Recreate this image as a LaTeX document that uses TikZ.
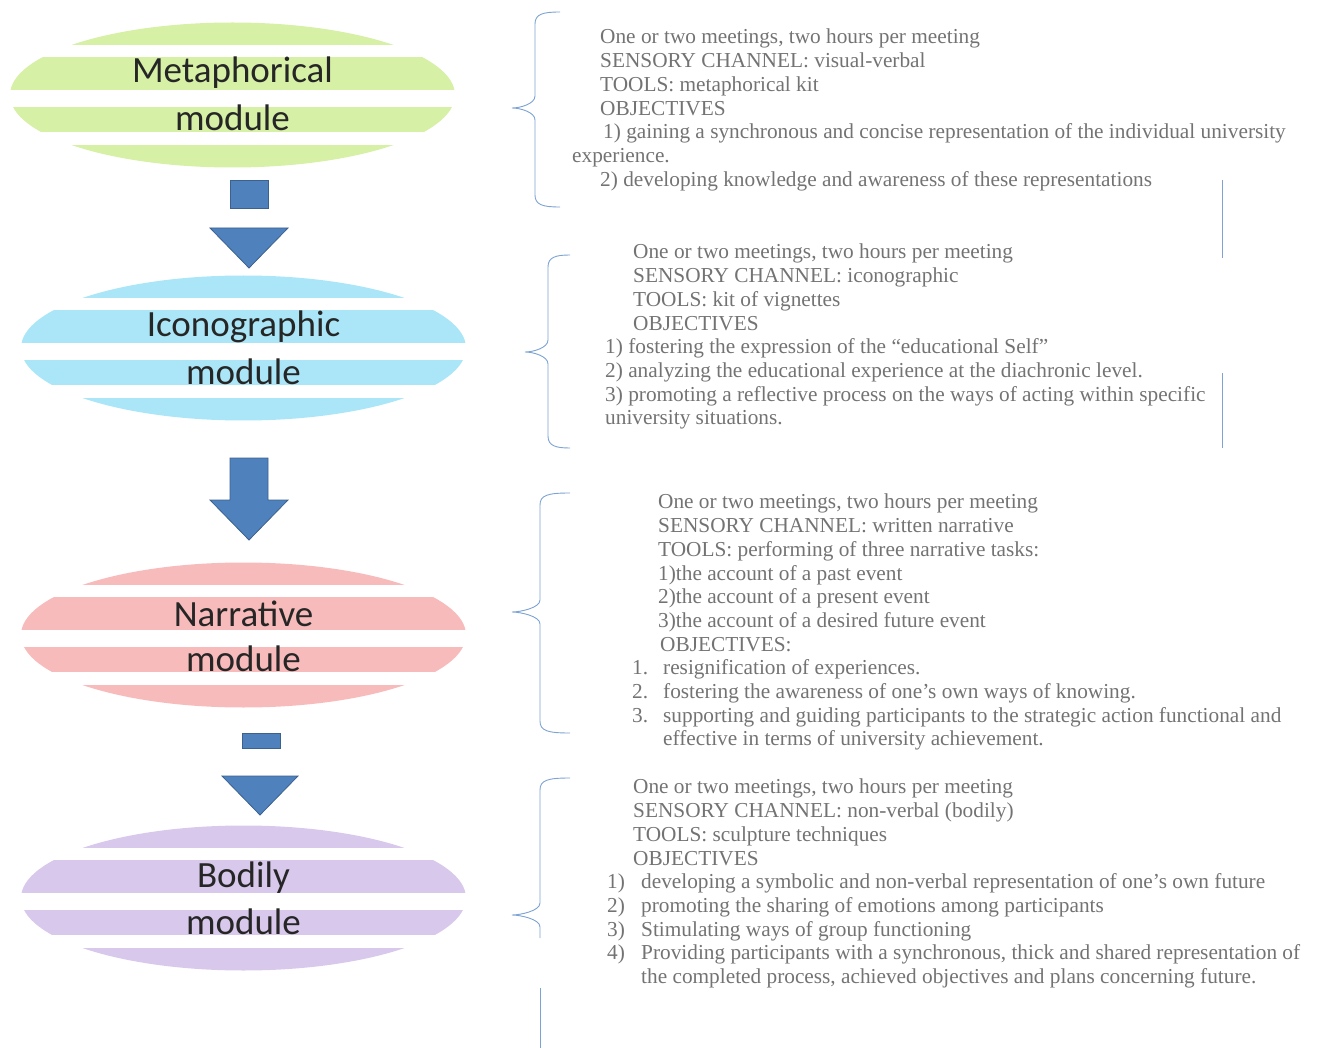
\documentclass[tikz,border=0pt]{standalone}
\usepackage{fontspec}
\setmainfont{Liberation Serif}
\newfontfamily\labelfont{Carlito}
\usetikzlibrary{calc,shapes.geometric}

\definecolor{metagreen}{HTML}{D6F0A6}
\definecolor{iconcyan}{HTML}{AAE6F7}
\definecolor{narrpink}{HTML}{F8BBBB}
\definecolor{bodylilac}{HTML}{D8C9EC}
\definecolor{arrowblue}{HTML}{4F81BD}
\definecolor{bracketblue}{HTML}{7DA2D4}

\newcommand{\indt}[1]{\hspace*{#1pt}}
\newcommand{\numlab}[2]{\makebox[#1pt][l]{#2}}
% brace: vertical x, tip x, end x, top y, tip y, bottom y
\newcommand{\modbrace}[6]{%
  \draw[bracket] (#3,#4) .. controls ({#1+8},#4) and (#1,{#4+2}) .. (#1,{#4+12})
    -- (#1,{#5-12}) .. controls (#1,{#5-4}) and ({#2+8},#5) .. (#2,#5)
    .. controls ({#2+8},#5) and (#1,{#5+4}) .. (#1,{#5+12})
    -- (#1,{#6-12}) .. controls (#1,{#6-2}) and ({#1+8},#6) .. (#3,#6);}

\begin{document}
\begin{tikzpicture}
	[x=1pt,y=-1pt,
	 module/.style={ellipse,minimum width=445pt,minimum height=145pt,inner sep=0pt},
	 modlabel/.style={font=\labelfont\fontsize{37}{40}\selectfont,text=black!85},
	 info/.style={anchor=north west,align=left,inner sep=0pt,text=black!55,
	   font=\fontsize{21.3}{23.7}\selectfont},
	 blockarrow/.style={fill=arrowblue,draw=arrowblue!75!black,line width=0.8pt},
	 bracket/.style={draw=bracketblue,line width=0.9pt}]
	\useasboundingbox (0,0) rectangle (1328,1048);

	% modules
	\node[module,fill=metagreen] (meta) at (232.5,95) {};
	\node[module,fill=iconcyan] (icon) at (243.5,348) {};
	\node[module,fill=narrpink] (narr) at (243.5,635) {};
	\node[module,fill=bodylilac] (body) at (243.5,898) {};
	% white stripes
	\foreach \m in {meta,icon,narr,body}
		\foreach \a/\b in {-50/-38,-5/12,37/50}
			\fill[white] ($(\m.center)+(-230,\a)$) rectangle ($(\m.center)+(230,\b)$);

	% labels
	\node[modlabel] (metaA) at ($(meta.center)+(0,-22)$) {Metaphorical};
	\node[modlabel] (metaB) at ($(meta.center)+(0,23)$) {module};
	\node[modlabel] (iconA) at ($(icon.center)+(0,-21)$) {Iconographic};
	\node[modlabel] (iconB) at ($(icon.center)+(0,24)$) {module};
	\node[modlabel] (narrA) at ($(narr.center)+(0,-21)$) {Narrative};
	\node[modlabel] (narrB) at ($(narr.center)+(0,24)$) {module};
	\node[modlabel] (bodyA) at ($(body.center)+(0,-20)$) {Bodily};
	\node[modlabel] (bodyB) at ($(body.center)+(0,24)$) {module};

	% block arrows
	\draw[blockarrow] (230,180) rectangle (268,208);
	\draw[blockarrow] (210,228) -- (288,228) -- (249,268) -- cycle;
	\draw[blockarrow] (230,458) -- (268,458) -- (268,500) -- (288,500)
		-- (249,540) -- (210,500) -- (230,500) -- cycle;
	\draw[blockarrow] (242,733) rectangle (280,748);
	\draw[blockarrow] (222,776) -- (298,776) -- (260,815) -- cycle;

	% descriptions
	\node[info] (metainfo) at (572,29) {%
		\indt{28}One or two meetings, two hours per meeting\\
		\indt{28}SENSORY CHANNEL: visual-verbal\\
		\indt{28}TOOLS: metaphorical kit\\
		\indt{28}OBJECTIVES\\
		\indt{31}1) gaining a synchronous and concise representation of the individual university\\
		experience.\\
		\indt{28}2) developing knowledge and awareness of these representations};
	\node[info] (iconinfo) at (605,244) {%
		\indt{28}One or two meetings, two hours per meeting\\
		\indt{28}SENSORY CHANNEL: iconographic\\
		\indt{28}TOOLS: kit of vignettes\\
		\indt{28}OBJECTIVES\\
		1) fostering the expression of the “educational Self”\\
		2) analyzing the educational experience at the diachronic level.\\
		3) promoting a reflective process on the ways of acting within specific\\
		university situations.};
	\node[info] (narrinfo) at (632,494) {%
		\indt{26}One or two meetings, two hours per meeting\\
		\indt{26}SENSORY CHANNEL: written narrative\\
		\indt{26}TOOLS: performing of three narrative tasks:\\
		\indt{26}1)the account of a past event\\
		\indt{26}2)the account of a present event\\
		\indt{26}3)the account of a desired future event\\
		\indt{28}OBJECTIVES:\\
		\numlab{31}{1.}resignification of experiences.\\
		\numlab{31}{2.}fostering the awareness of one's own ways of knowing.\\
		\numlab{31}{3.}supporting and guiding participants to the strategic action functional and\\
		\indt{31}effective in terms of university achievement.};
	\node[info] (bodyinfo) at (607,779) {%
		\indt{26}One or two meetings, two hours per meeting\\
		\indt{26}SENSORY CHANNEL: non-verbal (bodily)\\
		\indt{26}TOOLS: sculpture techniques\\
		\indt{26}OBJECTIVES\\
		\numlab{34}{1)}developing a symbolic and non-verbal representation of one's own future\\
		\numlab{34}{2)}promoting the sharing of emotions among participants\\
		\numlab{34}{3)}Stimulating ways of group functioning\\
		\numlab{34}{4)}Providing participants with a synchronous, thick and shared representation of\\
		\indt{34}the completed process, achieved objectives and plans concerning future.};

	% braces
	\modbrace{535}{512}{560}{12}{108}{207}
	\modbrace{548}{525}{570}{255}{352}{448}
	\modbrace{540}{512}{570}{493}{612}{733}
	\draw[bracket] (570,778) .. controls (548,778) and (540,780) .. (540,790)
		-- (540,903) .. controls (540,911) and (520,915) .. (512,915)
		.. controls (520,915) and (540,919) .. (540,927) -- (540,938);
	\draw[bracket] (540,988) -- (540,1048);
	\draw[bracket] (1222,180) -- (1222,258);
	\draw[bracket] (1222,373) -- (1222,448);
\end{tikzpicture}
\end{document}
